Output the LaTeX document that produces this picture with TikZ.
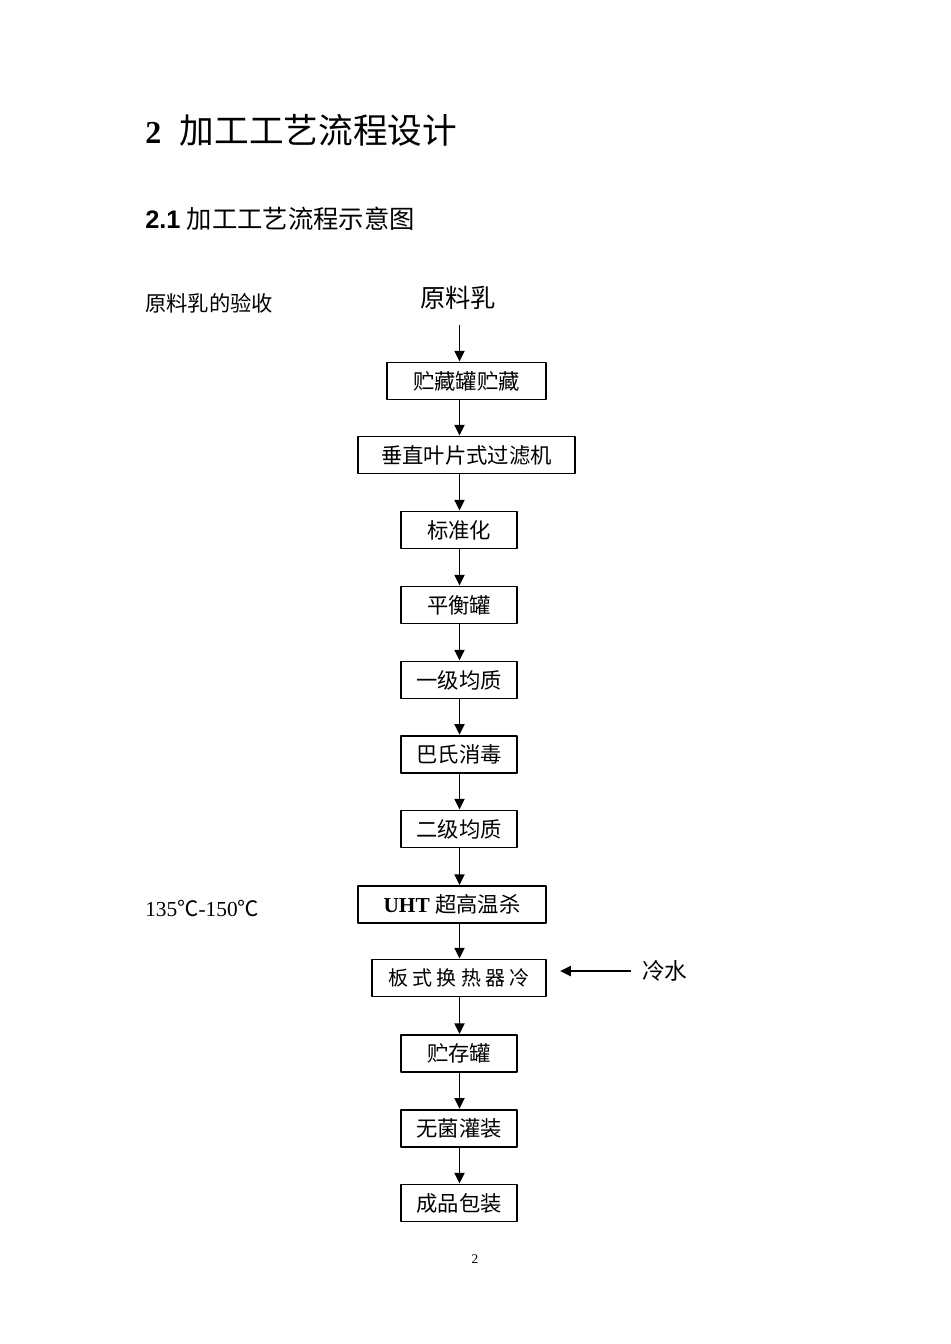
\documentclass[tikz,border=0pt]{standalone}
\usepackage{fontspec}
\setmainfont{Liberation Serif}
\setsansfont{Liberation Sans}
\newfontfamily\cjk{Noto Sans CJK SC}
\newfontfamily\cjkwide[LetterSpace=22]{Noto Sans CJK SC}
\usetikzlibrary{arrows.meta,positioning}
\tikzset{
  every picture/.style={line join=round, >={Triangle[width=7.5pt,length=8pt]}},
  stepbox/.style={draw, line width=1.2pt, minimum height=28pt, inner sep=0pt, font=\cjk\fontsize{16}{18}\selectfont},
  flow/.style={->, line width=1.4pt},
  sidelabel/.style={anchor=west, inner sep=0pt, font=\cjk\fontsize{16}{18}\selectfont},
}
\begin{document}
\begin{tikzpicture}[x=0.75pt,y=-0.75pt]
\useasboundingbox (0,0) rectangle (950,1344);
% headings
\node[anchor=west,inner sep=0pt] (title) at (145,130) {\fontsize{24}{28}\selectfont\textbf{2}\hspace{14pt}{\cjk\fontsize{26}{30}\selectfont 加工工艺流程设计}};
\node[anchor=west,inner sep=0pt] (subtitle) at (145,219) {\fontsize{19}{22}\selectfont\textsf{\textbf{2.1}} {\cjk 加工工艺流程示意图}};
\node[sidelabel] (check) at (145,303) {原料乳的验收};
\node[sidelabel] (temp) at (145,908) {\fontspec{Liberation Serif}135{\cjk ℃}-150{\cjk ℃}};
% flow
\coordinate (axis) at (459.5,0);
\node[font=\cjk\fontsize{19}{22}\selectfont] (src) at (458,298) {原料乳};
\node[stepbox,minimum width=119pt] (b1) at (466.5,381) {贮藏罐贮藏};
\node[stepbox,minimum width=163pt] (b2) at (466.5,455) {垂直叶片式过滤机};
\node[stepbox,minimum width=87pt] (b3) at (459,530) {标准化};
\node[stepbox,minimum width=87pt] (b4) at (459,605) {平衡罐};
\node[stepbox,minimum width=87pt] (b5) at (459,680) {一级均质};
\node[stepbox,minimum width=87pt,line width=1.6pt] (b6) at (459,754.5) {巴氏消毒};
\node[stepbox,minimum width=87pt] (b7) at (459,829) {二级均质};
\node[stepbox,minimum width=141pt] (b8) at (452,904.5) {\fontspec{Liberation Serif}\textbf{UHT} {\cjk 超高温杀}};
\node[stepbox,minimum width=130.5pt,font=\cjkwide\fontsize{15}{18}\selectfont] (b9) at (459,978) {板式换热器冷};
\node[stepbox,minimum width=87pt] (b10) at (459,1053.5) {贮存罐};
\node[stepbox,minimum width=87pt,line width=1.6pt] (b11) at (459,1128.5) {无菌灌装};
\node[stepbox,minimum width=87pt] (b12) at (459,1203) {成品包装};
\draw[flow,shorten <=8pt] (src.south -| axis) -- (b1.north -| axis);
\foreach \a/\b in {b1/b2,b2/b3,b3/b4,b4/b5,b5/b6,b6/b7,b7/b8,b8/b9,b9/b10,b10/b11,b11/b12}
  \draw[flow] (\a.south -| axis) -- (\b.north -| axis);
% cooling water
\node[sidelabel,font=\cjk\fontsize{17}{20}\selectfont] (water) at (642,971) {冷水};
\draw[flow,shorten <=8pt,shorten >=10pt] (water.west) -- (b9.east |- water.west);
\node[font=\fontsize{10}{12}\selectfont] (page) at (475,1259) {2};
\end{tikzpicture}
\end{document}
